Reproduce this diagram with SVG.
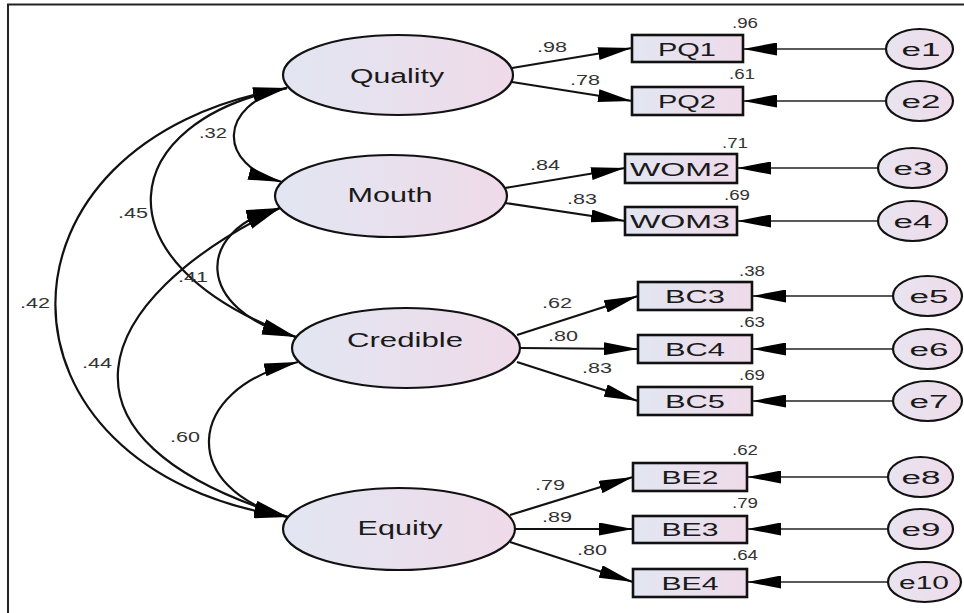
<svg xmlns="http://www.w3.org/2000/svg" width="964" height="613" viewBox="0 0 964 613">
<style>
.lat{stroke:#111;stroke-width:2.2;fill:url(#g)}
.obs{stroke:#111;stroke-width:2.6;fill:url(#g)}
.err{stroke:#111;stroke-width:2.2;fill:url(#ge)}
.t{font-family:"Liberation Sans",Arial,sans-serif;fill:#1a1a1a;text-anchor:middle}
.n{font-size:20px}
.o{font-size:19px}
.e{font-size:18px}
.l{font-family:"Liberation Sans",Arial,sans-serif;fill:#333;text-anchor:middle;font-size:14px}
.c{fill:none;stroke:#111;stroke-width:2.2}
.ce{fill:none;stroke:#222;stroke-width:1.6}
</style>
<defs>
<linearGradient id="g" x1="0" y1="0" x2="1" y2="0">
<stop offset="0" stop-color="#e2e6f2"/>
<stop offset="1" stop-color="#efdae9"/>
</linearGradient>
<linearGradient id="ge" x1="0" y1="0" x2="1" y2="0">
<stop offset="0" stop-color="#e8e4f0"/>
<stop offset="1" stop-color="#efdbea"/>
</linearGradient>
<marker id="a" markerUnits="userSpaceOnUse" viewBox="0 0 34 13" markerWidth="34" markerHeight="13" refX="34" refY="6.5" orient="auto-start-reverse">
<path d="M0,0 L34,6.5 L0,13 z" fill="#000"/>
</marker>
<marker id="b" markerUnits="userSpaceOnUse" viewBox="0 0 34 13" markerWidth="34" markerHeight="13" refX="34" refY="6.5" orient="auto-start-reverse">
<path d="M0,0 L34,6.5 L0,13 z" fill="#000"/>
</marker>
</defs>
<rect width="964" height="613" fill="#fff"/>
<path d="M8,613 L8,4.5 L964,4.5" fill="none" stroke="#222" stroke-width="2"/>

<g id="connectors">
<path class="c" d="M287,88 C217,105 217,165 282,182" marker-start="url(#b)" marker-end="url(#b)"/>
<path class="c" d="M287,88 C118,120 90,262 296,337" marker-start="url(#b)" marker-end="url(#b)"/>
<path class="c" d="M287,88 C-22,140 -22,470 288,517" marker-start="url(#b)" marker-end="url(#b)"/>
<path class="c" d="M280,208 C194,230 194,310 296,337" marker-start="url(#b)" marker-end="url(#b)"/>
<path class="c" d="M280,208 C90,300 36,440 288,517" marker-start="url(#b)" marker-end="url(#b)"/>
<path class="c" d="M298,362 C181,390 181,490 288,517" marker-start="url(#b)" marker-end="url(#b)"/>

<path class="c" d="M512,68 L632,48" marker-end="url(#a)"/>
<path class="c" d="M512,82 L632,101" marker-end="url(#a)"/>
<path class="c" d="M505,188 L625,168" marker-end="url(#a)"/>
<path class="c" d="M505,203 L625,221" marker-end="url(#a)"/>
<path class="c" d="M517,335 L638,296" marker-end="url(#a)"/>
<path class="c" d="M520,348 L638,349" marker-end="url(#a)"/>
<path class="c" d="M517,362 L638,401" marker-end="url(#a)"/>
<path class="c" d="M510,515 L633,477" marker-end="url(#a)"/>
<path class="c" d="M515,529 L633,529" marker-end="url(#a)"/>
<path class="c" d="M510,542 L633,582" marker-end="url(#a)"/>

<path class="ce" d="M886,49 L743,49" marker-end="url(#a)"/>
<path class="ce" d="M886,101 L743,101" marker-end="url(#a)"/>
<path class="ce" d="M878,168 L737,168" marker-end="url(#a)"/>
<path class="ce" d="M878,221 L737,221" marker-end="url(#a)"/>
<path class="ce" d="M893,296 L752,296" marker-end="url(#a)"/>
<path class="ce" d="M893,349 L752,349" marker-end="url(#a)"/>
<path class="ce" d="M893,401 L752,401" marker-end="url(#a)"/>
<path class="ce" d="M888,477 L747,477" marker-end="url(#a)"/>
<path class="ce" d="M888,529 L747,529" marker-end="url(#a)"/>
<path class="ce" d="M888,582 L747,582" marker-end="url(#a)"/>

<text class="l" x="213" y="138" textLength="28" lengthAdjust="spacingAndGlyphs">.32</text>
<text class="l" x="133" y="218" textLength="30" lengthAdjust="spacingAndGlyphs">.45</text>
<text class="l" x="193" y="282" textLength="30" lengthAdjust="spacingAndGlyphs">.41</text>
<text class="l" x="35" y="308" textLength="30" lengthAdjust="spacingAndGlyphs">.42</text>
<text class="l" x="97" y="368" textLength="30" lengthAdjust="spacingAndGlyphs">.44</text>
<text class="l" x="185" y="442" textLength="30" lengthAdjust="spacingAndGlyphs">.60</text>

<text class="l" x="552" y="52" textLength="30" lengthAdjust="spacingAndGlyphs">.98</text>
<text class="l" x="585" y="85" textLength="30" lengthAdjust="spacingAndGlyphs">.78</text>
<text class="l" x="545" y="170" textLength="30" lengthAdjust="spacingAndGlyphs">.84</text>
<text class="l" x="582" y="204" textLength="30" lengthAdjust="spacingAndGlyphs">.83</text>
<text class="l" x="557" y="308" textLength="30" lengthAdjust="spacingAndGlyphs">.62</text>
<text class="l" x="563" y="341" textLength="30" lengthAdjust="spacingAndGlyphs">.80</text>
<text class="l" x="597" y="373" textLength="30" lengthAdjust="spacingAndGlyphs">.83</text>
<text class="l" x="550" y="490" textLength="30" lengthAdjust="spacingAndGlyphs">.79</text>
<text class="l" x="557" y="522" textLength="30" lengthAdjust="spacingAndGlyphs">.89</text>
<text class="l" x="592" y="555" textLength="30" lengthAdjust="spacingAndGlyphs">.80</text>
</g>

<g id="Quality"><ellipse class="lat" cx="398" cy="75" rx="115" ry="40"/><text class="t n" x="397" y="83" textLength="94" lengthAdjust="spacingAndGlyphs">Quality</text></g>
<g id="Mouth"><ellipse class="lat" cx="391" cy="196" rx="116" ry="41"/><text class="t n" x="390" y="202" textLength="85" lengthAdjust="spacingAndGlyphs">Mouth</text></g>
<g id="Credible"><ellipse class="lat" cx="406" cy="348" rx="114" ry="40"/><text class="t n" x="405" y="347" textLength="116" lengthAdjust="spacingAndGlyphs">Credible</text></g>
<g id="Equity"><ellipse class="lat" cx="399" cy="529" rx="116" ry="41"/><text class="t n" x="400" y="535" textLength="85" lengthAdjust="spacingAndGlyphs">Equity</text></g>

<g id="PQ1"><rect class="obs" x="632" y="35" width="111" height="27"/><text class="t o" x="687" y="56" textLength="58" lengthAdjust="spacingAndGlyphs">PQ1</text><text class="l" x="745" y="28" textLength="26" lengthAdjust="spacingAndGlyphs">.96</text></g>
<g id="PQ2"><rect class="obs" x="632" y="87" width="111" height="28"/><text class="t o" x="687" y="108" textLength="58" lengthAdjust="spacingAndGlyphs">PQ2</text><text class="l" x="742" y="79" textLength="26" lengthAdjust="spacingAndGlyphs">.61</text></g>
<g id="WOM2"><rect class="obs" x="625" y="154" width="112" height="29"/><text class="t o" x="680" y="176" textLength="100" lengthAdjust="spacingAndGlyphs">WOM2</text><text class="l" x="735" y="148" textLength="26" lengthAdjust="spacingAndGlyphs">.71</text></g>
<g id="WOM3"><rect class="obs" x="625" y="207" width="112" height="28"/><text class="t o" x="680" y="228" textLength="100" lengthAdjust="spacingAndGlyphs">WOM3</text><text class="l" x="737" y="200" textLength="26" lengthAdjust="spacingAndGlyphs">.69</text></g>
<g id="BC3"><rect class="obs" x="638" y="282" width="114" height="28"/><text class="t o" x="695" y="303" textLength="60" lengthAdjust="spacingAndGlyphs">BC3</text><text class="l" x="752" y="276" textLength="26" lengthAdjust="spacingAndGlyphs">.38</text></g>
<g id="BC4"><rect class="obs" x="638" y="335" width="114" height="28"/><text class="t o" x="695" y="356" textLength="60" lengthAdjust="spacingAndGlyphs">BC4</text><text class="l" x="752" y="327" textLength="26" lengthAdjust="spacingAndGlyphs">.63</text></g>
<g id="BC5"><rect class="obs" x="638" y="387" width="114" height="28"/><text class="t o" x="695" y="408" textLength="60" lengthAdjust="spacingAndGlyphs">BC5</text><text class="l" x="752" y="380" textLength="26" lengthAdjust="spacingAndGlyphs">.69</text></g>
<g id="BE2"><rect class="obs" x="633" y="463" width="114" height="28"/><text class="t o" x="690" y="484" textLength="57" lengthAdjust="spacingAndGlyphs">BE2</text><text class="l" x="745" y="455" textLength="26" lengthAdjust="spacingAndGlyphs">.62</text></g>
<g id="BE3"><rect class="obs" x="633" y="516" width="114" height="27"/><text class="t o" x="690" y="536" textLength="57" lengthAdjust="spacingAndGlyphs">BE3</text><text class="l" x="745" y="508" textLength="26" lengthAdjust="spacingAndGlyphs">.79</text></g>
<g id="BE4"><rect class="obs" x="633" y="569" width="114" height="28"/><text class="t o" x="690" y="590" textLength="57" lengthAdjust="spacingAndGlyphs">BE4</text><text class="l" x="745" y="560" textLength="26" lengthAdjust="spacingAndGlyphs">.64</text></g>

<g id="e1"><ellipse class="err" cx="919.5" cy="49" rx="33.5" ry="20"/><text class="t e" x="921" y="55.5" textLength="39" lengthAdjust="spacingAndGlyphs">e1</text></g>
<g id="e2"><ellipse class="err" cx="919.5" cy="101" rx="33.5" ry="20"/><text class="t e" x="921" y="107.5" textLength="39" lengthAdjust="spacingAndGlyphs">e2</text></g>
<g id="e3"><ellipse class="err" cx="912.5" cy="168" rx="34.5" ry="20"/><text class="t e" x="913" y="174.5" textLength="39" lengthAdjust="spacingAndGlyphs">e3</text></g>
<g id="e4"><ellipse class="err" cx="912.5" cy="221" rx="34.5" ry="20"/><text class="t e" x="913" y="227.5" textLength="39" lengthAdjust="spacingAndGlyphs">e4</text></g>
<g id="e5"><ellipse class="err" cx="927.5" cy="296" rx="34.5" ry="20"/><text class="t e" x="929" y="302.5" textLength="39" lengthAdjust="spacingAndGlyphs">e5</text></g>
<g id="e6"><ellipse class="err" cx="927.5" cy="349" rx="34.5" ry="20"/><text class="t e" x="929" y="355.5" textLength="39" lengthAdjust="spacingAndGlyphs">e6</text></g>
<g id="e7"><ellipse class="err" cx="927.5" cy="401" rx="34.5" ry="20"/><text class="t e" x="929" y="407.5" textLength="39" lengthAdjust="spacingAndGlyphs">e7</text></g>
<g id="e8"><ellipse class="err" cx="920.5" cy="477" rx="32.5" ry="20"/><text class="t e" x="921" y="483.5" textLength="39" lengthAdjust="spacingAndGlyphs">e8</text></g>
<g id="e9"><ellipse class="err" cx="920.5" cy="529" rx="32.5" ry="20"/><text class="t e" x="921" y="535.5" textLength="39" lengthAdjust="spacingAndGlyphs">e9</text></g>
<g id="e10"><ellipse class="err" cx="924.5" cy="582" rx="36.5" ry="20"/><text class="t e" x="924" y="588.5" textLength="50" lengthAdjust="spacingAndGlyphs">e10</text></g>
</svg>
